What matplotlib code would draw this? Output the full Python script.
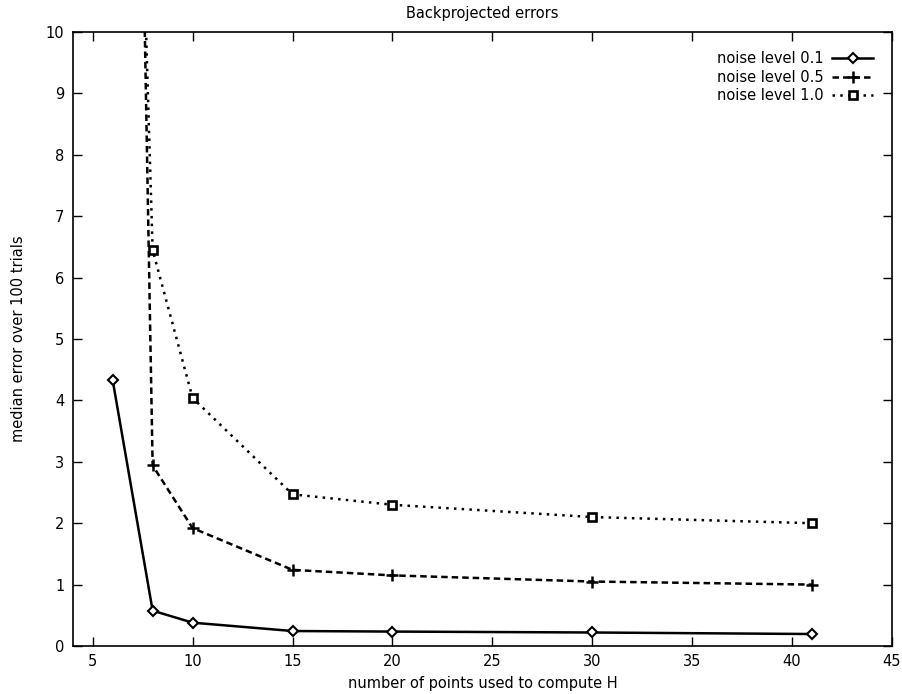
import matplotlib
matplotlib.use("Agg")
import matplotlib.pyplot as plt

plt.rcParams['font.family'] = ['DejaVu Sans']

# Data
x_01 = [6, 8, 10, 15, 20, 30, 41]
y_01 = [4.33, 0.576, 0.38, 0.244, 0.235, 0.22, 0.195]

x_05 = [6, 8, 10, 15, 20, 30, 41]
y_05 = [39.0, 2.94, 1.92, 1.24, 1.15, 1.05, 1.0]

x_10 = [6, 8, 10, 15, 20, 30, 41]
y_10 = [28.0, 6.45, 4.04, 2.47, 2.30, 2.10, 2.0]

labels = ["noise level 0.1", "noise level 0.5", "noise level 1.0"]
xticks = [5, 10, 15, 20, 25, 30, 35, 40, 45]
yticks = list(range(0, 11))

fig = plt.figure(figsize=(9.02, 6.94), dpi=100)
ax = fig.add_axes([72.7 / 902, 48 / 694, (892 - 72.7) / 902, (646 - 32) / 694])

fs = 10.5
ax.plot(x_01, y_01, color='black', lw=1.8, ls='-', marker='D', ms=5,
        mfc='white', mec='black', mew=1.5, label=labels[0])
ax.plot(x_05, y_05, color='black', lw=1.8, ls=(0, (2.6, 1.6)), marker='+', ms=8,
        mew=1.8, label=labels[1])
ax.plot(x_10, y_10, color='black', lw=1.8, ls=(0, (1, 2.1)), marker='s', ms=6,
        mfc='white', mec='black', mew=1.9, label=labels[2])

ax.set_xlim(4, 45)
ax.set_ylim(0, 10)
ax.set_xticks(xticks)
ax.set_yticks(yticks)
ax.tick_params(direction='in', length=6.5, width=1.0, top=True, right=True,
               labelsize=fs, pad=6)
for s in ax.spines.values():
    s.set_linewidth(1.2)

ax.set_title("Backprojected errors", fontsize=fs, pad=10)
ax.set_xlabel("number of points used to compute H", fontsize=fs, labelpad=5)
ax.set_ylabel("median error over 100 trials", fontsize=fs, labelpad=14)

leg = ax.legend(loc='upper right', frameon=False, markerfirst=False,
                fontsize=fs, handlelength=2.8, labelspacing=0.25,
                handletextpad=0.6, borderaxespad=0.9)

fig.savefig("out.png", dpi=100)
